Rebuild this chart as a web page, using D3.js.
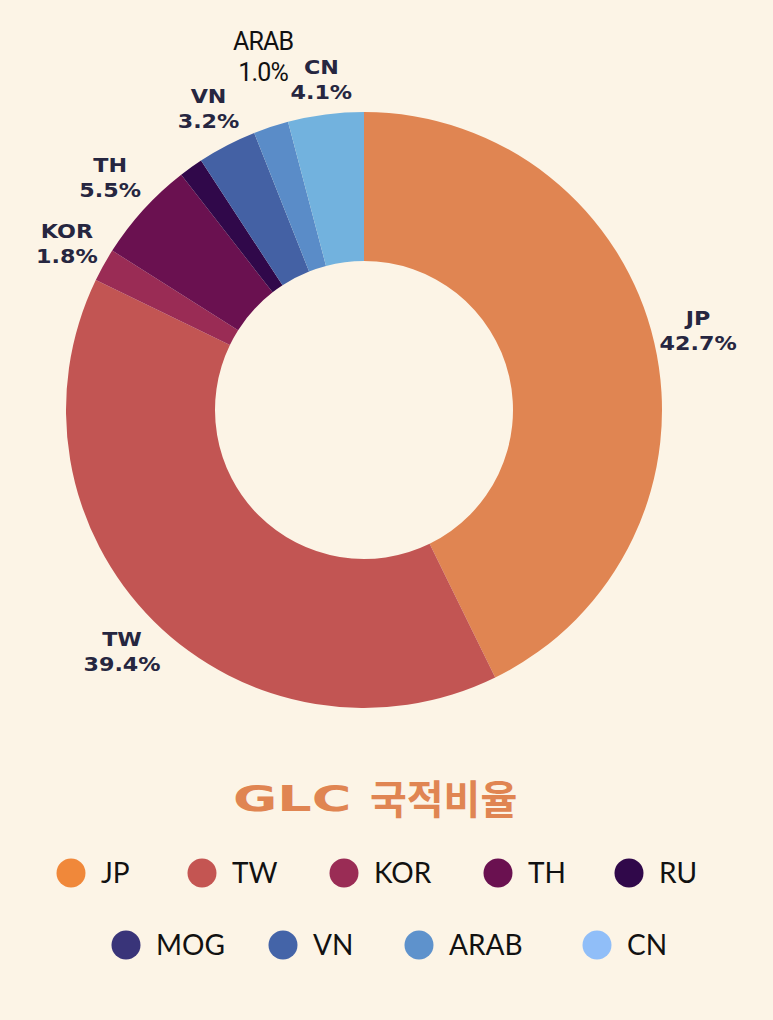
<html>
<head>
<meta charset="utf-8">
<style>
  body { margin: 0; background: #fcf4e6; }
</style>
</head>
<body>
<svg id="chart"></svg>
<script src="https://cdn.jsdelivr.net/npm/d3@7"></script>
<script>
// slice order, clockwise from 12 o'clock
var names = ["JP", "TW", "KOR", "TH", "RU", "MOG", "VN", "ARAB", "CN"];
var shares = [42.7, 39.4, 1.8, 5.5, 1.3, 0, 3.2, 1.9, 4.1];
var shownLabels = ["42.7%", "39.4%", "1.8%", "5.5%", "", "", "3.2%", "1.0%", "4.1%"];
var sliceColors = ["#e08552", "#c25553", "#9a2c55", "#6a1150", "#30084a", "#393479", "#4461a4", "#5a8cc8", "#72b2de"];
var legendColors = ["#f0883a", "#c45552", "#9a2c55", "#6a1150", "#30084a", "#393479", "#4464a8", "#5e92cc", "#90bef8"];
var legendRows = [["JP", "TW", "KOR", "TH", "RU"], ["MOG", "VN", "ARAB", "CN"]];

var W = 773, H = 1020;
var cx = 364, cy = 410, rOut = 298, rIn = 149;

var svg = d3.select("#chart").attr("width", W).attr("height", H);
svg.append("rect").attr("width", W).attr("height", H).attr("fill", "#fcf4e6");

var pie = d3.pie().sort(null).value(d => d);
var arcs = pie(shares);
var arc = d3.arc().innerRadius(rIn).outerRadius(rOut);

var g = svg.append("g").attr("transform", "translate(" + cx + "," + cy + ")");

g.selectAll("path")
  .data(arcs)
  .enter()
  .append("path")
  .attr("d", arc)
  .attr("fill", (d, i) => sliceColors[i]);

// outside labels (wide bold face faked with a horizontal stretch)
var labelR = { KOR: 340, VN: 338, CN: 332, ARAB: 368 };
arcs.forEach(function(d, i) {
  if (!shownLabels[i]) return;
  var a = (d.startAngle + d.endAngle) / 2;
  var r = labelR[names[i]] || 343;
  var special = names[i] == "ARAB";
  if (special) a = a + 0.04;
  var x = r * Math.sin(a), y = -r * Math.cos(a);
  var lg = g.append("g")
    .attr("transform", "translate(" + x + "," + y + ")" + (special ? "" : " scale(1.17,1)"));
  var t = lg.append("text")
    .attr("text-anchor", "middle")
    .attr("fill", special ? "#111" : "#262640")
    .attr("font-family", special ? "Roboto, sans-serif" : "DejaVu Sans, sans-serif")
    .attr("font-weight", special ? "normal" : "bold")
    .attr("font-size", special ? 25 : 19)
    .attr("letter-spacing", special ? -0.8 : 0);
  t.append("tspan").attr("x", 0).attr("y", special ? -6 : -7).text(names[i]);
  t.append("tspan").attr("x", 0).attr("y", special ? 25 : 18).text(shownLabels[i]);
});

// title
svg.append("text")
  .attr("transform", "translate(233,811) scale(1.5,1)")
  .attr("fill", "#e08552")
  .attr("font-family", "DejaVu Sans, sans-serif")
  .attr("font-weight", "bold")
  .attr("font-size", 36)
  .text("GLC");
svg.append("text")
  .attr("x", 370).attr("y", 814)
  .attr("fill", "#e08552")
  .attr("font-family", "Noto Sans CJK KR, sans-serif")
  .attr("font-weight", "bold")
  .attr("font-size", 40)
  .text("국적비율");

// legend
var legendX = [[71, 202, 344, 498, 629], [126, 283, 419, 597]];
var legendY = [873, 945];
legendRows.forEach(function(row, ri) {
  var lg = svg.append("g");
  var items = lg.selectAll("g")
    .data(row)
    .enter()
    .append("g")
    .attr("transform", (d, j) => "translate(" + legendX[ri][j] + "," + legendY[ri] + ")");
  items.append("circle")
    .attr("r", 14.5)
    .attr("fill", d => legendColors[names.indexOf(d)]);
  items.append("text")
    .attr("x", 30).attr("y", 10)
    .attr("font-family", "Lato, sans-serif")
    .attr("font-size", 28)
    .attr("fill", "#111")
    .text(d => d);
});
</script>
</body>
</html>
